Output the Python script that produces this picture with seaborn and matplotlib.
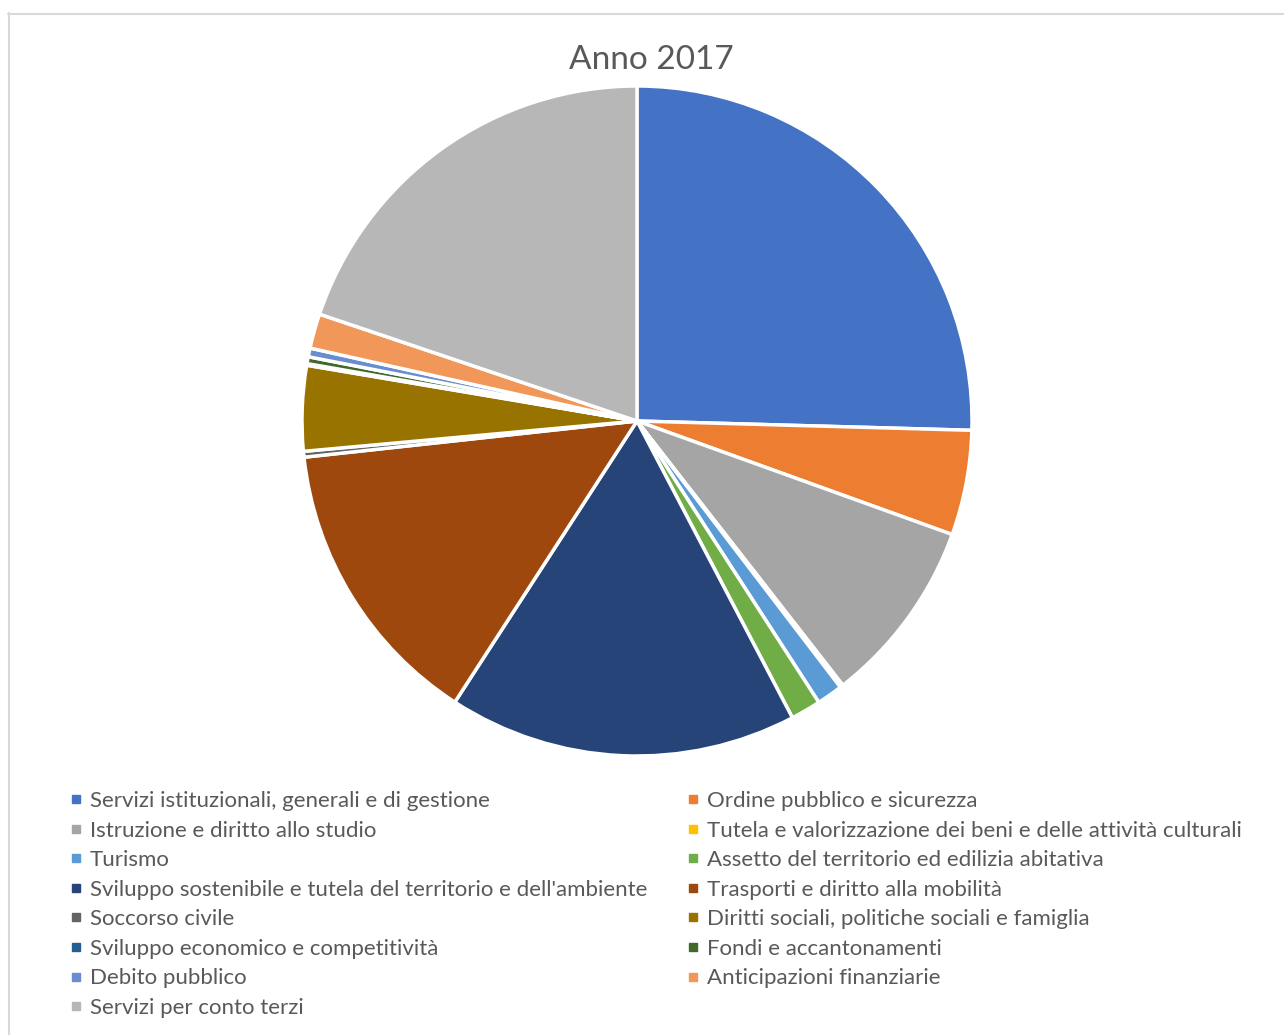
import matplotlib
matplotlib.use("Agg")
import matplotlib.pyplot as plt
import seaborn as sns
from matplotlib.lines import Line2D

# Dati (quota % della spesa per missione, anno 2017)
missioni = [
    "Servizi istituzionali, generali e di gestione",
    "Ordine pubblico e sicurezza",
    "Istruzione e diritto allo studio",
    "Tutela e valorizzazione dei beni e delle attività culturali",
    "Turismo",
    "Assetto del territorio ed edilizia abitativa",
    "Sviluppo sostenibile e tutela del territorio e dell'ambiente",
    "Trasporti e diritto alla mobilità",
    "Soccorso civile",
    "Diritti sociali, politiche sociali e famiglia",
    "Sviluppo economico e competitività",
    "Fondi e accantonamenti",
    "Debito pubblico",
    "Anticipazioni finanziarie",
    "Servizi per conto terzi",
]
quote = [25.4, 5.05, 8.95, 0.15, 1.25, 1.45, 16.8, 14.1, 0.28, 4.1, 0.08, 0.33, 0.42, 1.67, 19.8]
colori = ["#4472C4", "#ED7D31", "#A5A5A5", "#FFC000", "#5B9BD5", "#70AD47", "#264478",
          "#9E480E", "#636363", "#997300", "#255E91", "#43682B", "#698ED0", "#F1975A", "#B7B7B7"]

sns.set_theme(style="white")
plt.rcParams["font.family"] = ["Lato", "DejaVu Sans"]

W, H = 1284, 1035
fig = plt.figure(figsize=(W / 100, H / 100), dpi=100)
fig.patch.set_facecolor("white")

# bordo del grafico (stile Excel)
fig.add_artist(Line2D([8 / W, 1], [1 - 13.5 / H] * 2, transform=fig.transFigure, color="#D9D9D9", lw=1.5))
fig.add_artist(Line2D([8.5 / W] * 2, [0, 1 - 13 / H], transform=fig.transFigure, color="#D9D9D9", lw=1.5))

# torta
cx, cy, r = 637, 421, 335
m = 1.05
half = r * m
ax = fig.add_axes([(cx - half) / W, (H - cy - half) / H, 2 * half / W, 2 * half / H])
ax.pie(quote, colors=colori, startangle=90, counterclock=False,
       wedgeprops=dict(edgecolor="white", linewidth=2.5))
ax.set_xlim(-m, m)
ax.set_ylim(-m, m)
ax.set_aspect("equal")
ax.axis("off")

fig.text(651 / W, 1 - 60 / H, "Anno 2017", ha="center", va="center", fontsize=24, color="#595959")

# legenda su due colonne (ordine per righe)
fs = 16
maniglie = [Line2D([], [], marker="s", linestyle="none", markersize=6, color=c) for c in colori]
opts = dict(loc="upper left", frameon=False, fontsize=fs, labelcolor="#595959",
            handlelength=0.6, handletextpad=0.33, borderpad=0, borderaxespad=0,
            labelspacing=0.43, bbox_transform=fig.transFigure)
leg1 = fig.legend(maniglie[0::2], missioni[0::2], bbox_to_anchor=(69.3 / W, 1 - 791 / H), **opts)
leg2 = fig.legend(maniglie[1::2], missioni[1::2], bbox_to_anchor=(686.3 / W, 1 - 791 / H), **opts)

fig.savefig("out.png", dpi=100, facecolor="white")
